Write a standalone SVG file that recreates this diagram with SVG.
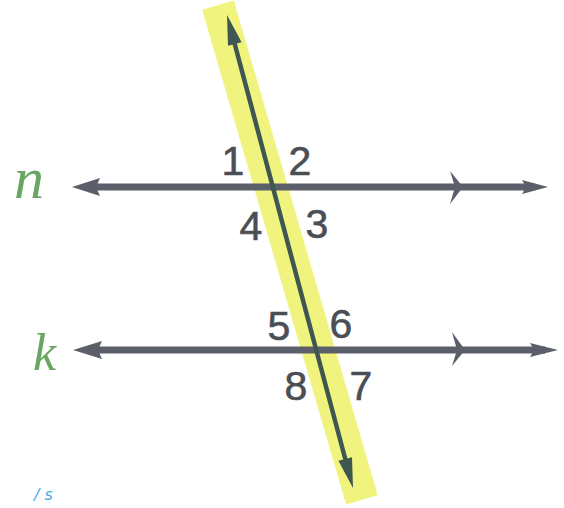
<svg xmlns="http://www.w3.org/2000/svg" width="564" height="508" viewBox="0 0 564 508">
<style>
.ln{stroke:#5b5f6a;stroke-width:7;fill:none}
.ah{fill:#5b5f6a}
.num{font-family:"Liberation Sans",Arial,sans-serif;font-size:41px;fill:#4a4e55;text-anchor:middle;stroke:#4a4e55;stroke-width:0.6}
.hand{font-family:"Liberation Serif","DejaVu Serif",serif;font-style:italic;fill:#6aa663}
</style>
<rect width="564" height="508" fill="#ffffff"/>
<g id="highlight">
<line x1="222.6" y1="21" x2="357.3" y2="484" stroke="#f0f37e" stroke-width="33" stroke-linecap="square"/>
</g>
<g id="connectors">
<g id="line-n">
<line class="ln" x1="90" y1="187" x2="535" y2="187"/>
<polygon class="ah" points="72,187 100,178 96,187 100,196"/>
<polygon class="ah" points="548,187 522,180 526,187 522,194"/>
<polygon class="ah" points="450,171 463,187 450,204 455,187"/>
</g>
<g id="line-k">
<line class="ln" x1="90" y1="350" x2="545" y2="350"/>
<polygon class="ah" points="73,350 102,341 98,350 102,359"/>
<polygon class="ah" points="558,350 530,343 534,350 530,357"/>
<polygon class="ah" points="452,332 465,350 452,366 457,350"/>
</g>
<g id="transversal">
<line x1="231" y1="30" x2="349" y2="473" stroke="#3f5651" stroke-width="4.5"/>
<polygon fill="#3f5651" points="227,15 241.6,42.2 234.8,44 228,45.8"/>
<polygon fill="#3f5651" points="353,488 338.4,460.8 345.2,459 352,457.2"/>
</g>
</g>
<g id="labels">
<text class="num" x="233" y="175">1</text>
<text class="num" x="300" y="175">2</text>
<text class="num" x="251" y="240">4</text>
<text class="num" x="317" y="238">3</text>
<text class="num" x="279" y="340">5</text>
<text class="num" x="341" y="338">6</text>
<text class="num" x="296" y="400">8</text>
<text class="num" x="361" y="400">7</text>
</g>
<g id="line-names">
<text class="hand" x="14" y="198" font-size="60">n</text>
<text class="hand" x="33" y="370" font-size="52">k</text>
</g>
<g id="note">
<text x="34" y="500" font-family="DejaVu Sans, sans-serif" font-style="italic" font-size="16" fill="#4aa8e8">/ s</text>
</g>
</svg>
